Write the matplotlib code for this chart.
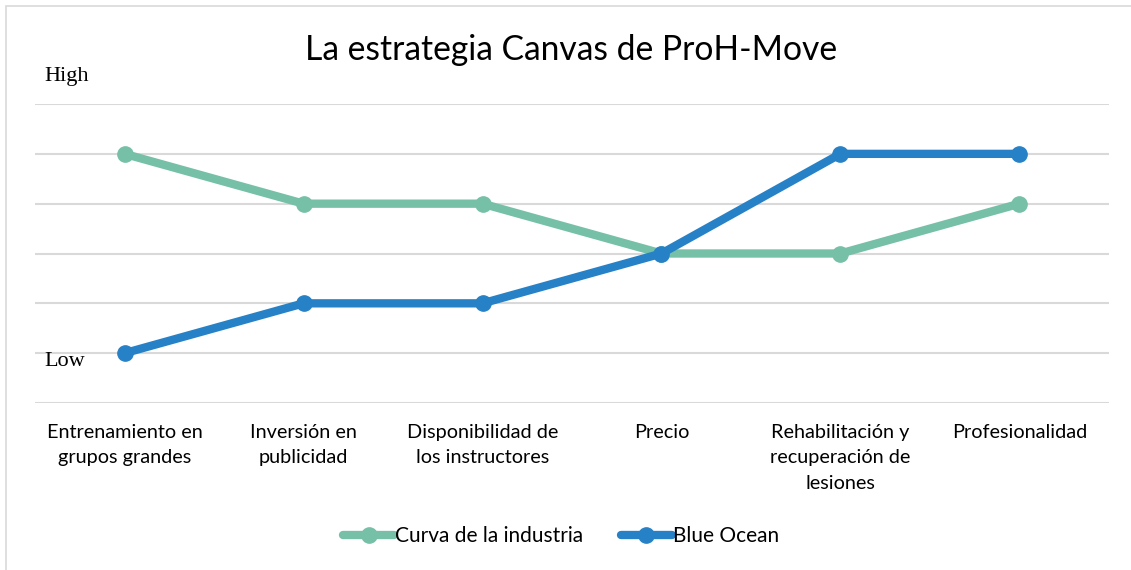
import matplotlib.pyplot as plt
from matplotlib.patches import Rectangle

categories = ['Entrenamiento en\ngrupos grandes', 'Inversión en\npublicidad',
              'Disponibilidad de\nlos instructores', 'Precio',
              'Rehabilitación y\nrecuperación de\nlesiones', 'Profesionalidad']
industria = [5, 4, 4, 3, 3, 4]
blue_ocean = [1, 2, 2, 3, 5, 5]

green = '#76C0A7'
blue = '#2781C6'
sans = ['Lato', 'DejaVu Sans']

fig = plt.figure(figsize=(11.31, 5.70), dpi=100)
ax = fig.add_axes([0.031, 0.293, 0.9495, 0.5245])
x = range(len(categories))
ax.plot(x, industria, color=green, lw=6, marker='o', ms=11, label='Curva de la industria',
        solid_capstyle='round', zorder=3)
ax.plot(x, blue_ocean, color=blue, lw=6, marker='o', ms=11, label='Blue Ocean',
        solid_capstyle='round', zorder=4)

ax.set_xlim(-0.5, 5.5)
ax.set_ylim(0, 6)
ax.set_yticks(range(7))
ax.set_yticklabels([])
ax.grid(axis='y', color='#D9D9D9', lw=1.5)
ax.set_axisbelow(True)
ax.tick_params(length=0)
ax.set_xticks(list(x))
ax.set_xticklabels(categories, family=sans, fontsize=14.3, linespacing=1.6, va='top')
ax.tick_params(axis='x', pad=15)
for s in ax.spines.values():
    s.set_visible(False)

fig.text(0.0395, 0.866, 'High', family='Liberation Serif', fontsize=16, va='center')
fig.text(0.0395, 0.366, 'Low', family='Liberation Serif', fontsize=16, va='center')

fig.text(0.505, 0.912, 'La estrategia Canvas de ProH-Move', family=sans, fontsize=24.2,
         ha='center', va='center')

leg = fig.legend(loc='center', bbox_to_anchor=(0.496, 0.06), ncol=2, frameon=False,
                 prop={'family': sans, 'size': 15}, handlelength=2.45, handletextpad=0.05,
                 columnspacing=1.8)

fig.patches.append(Rectangle((0.0053, -0.1), 1.1, 1.0895, transform=fig.transFigure,
                             fill=False, ec='#D9D9D9', lw=1.2))

fig.savefig('out.png', dpi=100)
